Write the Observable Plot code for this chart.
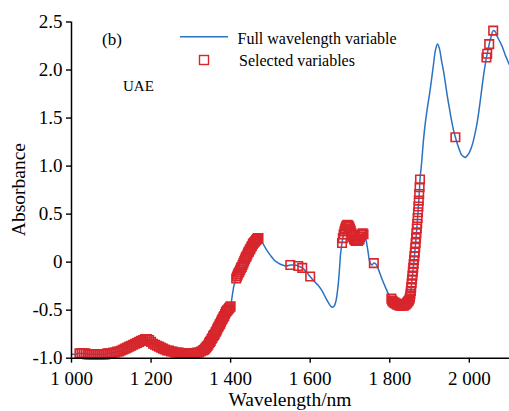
<!DOCTYPE html>
<html>
<head>
<meta charset="utf-8">
<script src="https://cdn.jsdelivr.net/npm/d3@7"></script>
<script src="https://cdn.jsdelivr.net/npm/@observablehq/plot@0.6"></script>
<style>
  html, body { margin: 0; padding: 0; background: #fff; }
  #chart { width: 509px; height: 411px; }
</style>
</head>
<body>
<div id="chart"></div>
<script>
// Spectrum: wavelength (nm) and absorbance
const wavelength = [
  // 1000-1325
  1000,1005,1010,1015,1020,1025,1030,1035,1040,1045,1050,1055,1060,1065,1070,1075,1080,1085,1090,1095,
  1100,1105,1110,1115,1120,1125,1130,1135,1140,1145,1150,1155,1160,1165,1170,1175,1180,1185,1190,1195,
  1200,1205,1210,1215,1220,1225,1230,1235,1240,1245,1250,1255,1260,1265,1270,1275,1280,1285,1290,1295,
  1300,1305,1310,1315,1320,1325,
  // 1330-1470
  1330,1332,1334,1336,1338,1340,1342,1344,1346,1348,1350,1352,1354,1356,1358,1360,1362,1364,1366,1368,
  1370,1372,1374,1376,1378,1380,1382,1384,1386,1388,1390,1392,1394,1396,1398,1400,1402,1404,1406,1408,
  1410,1412,1414,1416,1418,1420,1422,1424,1426,1428,1430,1432,1434,1436,1438,1440,1442,1444,1446,1448,
  1450,1452,1454,1456,1458,1460,1462,1464,1466,1468,1470,
  // 1480-1674
  1480,1490,1500,1510,1520,1530,1540,1550,1560,1570,1580,1590,1600,1610,1620,1630,1640,1650,1655,1660,
  1665,1670,1672,1674,
  // 1676-1740
  1676,1678,1680,1682,1684,1686,1688,1690,1692,1694,1696,1698,1700,1702,1704,1706,1708,1710,1712,1714,
  1716,1718,1720,1722,1724,1726,1728,1730,1732,1734,1736,1738,1740,
  // 1745-1790
  1745,1750,1755,1760,1765,1770,1780,1790,
  // 1800-1850
  1800,1802,1804,1806,1808,1810,1812,1814,1816,1818,1820,1822,1824,1826,1828,1830,1832,1834,1836,1838,
  1840,1842,1844,1846,1848,1850,
  // 1851-1876
  1851,1852,1853,1854,1855,1856,1857,1858,1859,1860,1861,1862,1863,1864,1865,1866,1867,1868,1869,1870,
  1871,1872,1873,1874,1875,1876,
  // 1880-2100
  1880,1885,1890,1895,1900,1905,1910,1915,1920,1925,1930,1935,1940,1945,1950,1955,1960,1965,1970,1975,
  1980,1985,1990,1995,2000,2005,2010,2015,2020,2025,2030,2035,2040,2043,2045,2050,2055,2060,2065,2070,
  2075,2080,2085,2090,2095,2100
];
const absorbance = [
  // 1000-1325
  -0.96,-0.96,-0.96,-0.95,-0.95,-0.95,-0.95,-0.95,-0.96,-0.96,-0.96,-0.96,-0.96,-0.96,-0.96,-0.96,-0.96,-0.96,-0.95,-0.95,
  -0.95,-0.94,-0.94,-0.93,-0.93,-0.92,-0.91,-0.90,-0.89,-0.88,-0.87,-0.86,-0.85,-0.84,-0.83,-0.82,-0.81,-0.80,-0.80,-0.81,
  -0.83,-0.85,-0.86,-0.87,-0.88,-0.89,-0.90,-0.91,-0.92,-0.92,-0.93,-0.93,-0.94,-0.94,-0.94,-0.95,-0.95,-0.95,-0.95,-0.95,
  -0.95,-0.95,-0.95,-0.94,-0.94,-0.93,
  // 1330-1470
  -0.92,-0.915,-0.91,-0.90,-0.89,-0.88,-0.87,-0.86,-0.84,-0.83,-0.82,-0.80,-0.79,-0.77,-0.76,-0.75,-0.73,-0.72,-0.70,-0.68,
  -0.67,-0.65,-0.64,-0.62,-0.60,-0.59,-0.57,-0.56,-0.54,-0.52,-0.51,-0.50,-0.49,-0.48,-0.47,-0.46,-0.41,-0.35,-0.30,-0.25,
  -0.22,-0.19,-0.17,-0.15,-0.13,-0.11,-0.10,-0.08,-0.06,-0.05,-0.03,-0.01,0.01,0.03,0.05,0.06,0.08,0.10,0.11,0.13,
  0.14,0.16,0.17,0.19,0.20,0.21,0.22,0.23,0.24,0.25,0.25,
  // 1480-1674
  0.20,0.13,0.07,0.02,-0.01,-0.03,-0.04,-0.03,-0.03,-0.04,-0.06,-0.10,-0.15,-0.20,-0.24,-0.30,-0.38,-0.45,-0.47,-0.46,
  -0.40,-0.25,-0.16,-0.05,
  // 1676-1740
  0.07,0.14,0.20,0.25,0.29,0.32,0.35,0.37,0.38,0.39,0.38,0.37,0.35,0.33,0.30,0.28,0.26,0.24,0.23,0.22,
  0.22,0.22,0.22,0.23,0.24,0.26,0.28,0.29,0.30,0.29,0.28,0.26,0.24,
  // 1745-1790
  0.12,0.00,-0.03,-0.01,-0.02,-0.06,-0.17,-0.27,
  // 1800-1850
  -0.36,-0.37,-0.38,-0.40,-0.41,-0.42,-0.42,-0.43,-0.43,-0.44,-0.44,-0.44,-0.45,-0.45,-0.45,-0.45,-0.45,-0.45,-0.45,-0.44,
  -0.44,-0.43,-0.42,-0.41,-0.40,-0.38,
  // 1851-1876
  -0.36,-0.33,-0.30,-0.26,-0.22,-0.18,-0.14,-0.10,-0.06,-0.02,0.02,0.06,0.10,0.15,0.20,0.25,0.30,0.35,0.40,0.46,
  0.52,0.58,0.64,0.71,0.78,0.86,
  // 1880-2100
  1.03,1.28,1.47,1.62,1.75,1.90,2.06,2.21,2.27,2.22,2.10,1.99,1.86,1.72,1.60,1.48,1.38,1.30,1.23,1.17,
  1.12,1.10,1.09,1.11,1.14,1.19,1.26,1.35,1.46,1.60,1.76,1.92,2.06,2.13,2.17,2.27,2.35,2.41,2.40,2.35,
  2.31,2.27,2.22,2.16,2.11,2.06
];
// Wavelength bands (nm, inclusive) picked as selected variables
const selectedBands = [
  [1020, 1400], [1414, 1470], [1550, 1550], [1570, 1580], [1600, 1600],
  [1680, 1734], [1760, 1760], [1804, 1876], [1965, 1965],
  [2043, 2043], [2045, 2045], [2050, 2050], [2060, 2060]
];
const xTicks = [1000, 1200, 1400, 1600, 1800, 2000];
const yTicks = [-1.0, -0.5, 0, 0.5, 1.0, 1.5, 2.0, 2.5];
const seriesNames = ["Full wavelength variable", "Selected variables"];
const xLabel = "Wavelength/nm";
const yLabel = "Absorbance";
const panelTag = "(b)";
const methodName = "UAE";

const spectrum = wavelength.map((w, i) => ({w, a: absorbance[i]}));
const selected = spectrum.filter(d => selectedBands.some(([lo, hi]) => d.w >= lo && d.w <= hi));

const BLUE = "#2a72c2";
const RED = "#d8262c";
const thousands = d3.formatLocale({decimal: ".", thousands: " ", grouping: [3], currency: ["", ""], minus: "-"}).format(",");
const xFmt = d => thousands(d);
const yFmt = d => d === 0 ? "0" : d.toFixed(1);

const W = 509, H = 411;
const mL = 71, mR = 0, mT = 21.5, mB = 53.3;
const serif = "'Liberation Serif', 'Times New Roman', serif";

const svg = Plot.plot({
  width: W, height: H,
  marginLeft: mL, marginRight: mR, marginTop: mT, marginBottom: mB,
  style: {fontFamily: serif, fontSize: "19px", color: "#000", background: "#fff", overflow: "visible"},
  x: {domain: [1000, 2101]},
  y: {domain: [-1, 2.5]},
  marks: [
    Plot.axisX({ticks: xTicks, tickFormat: xFmt, tickSize: 5, tickPadding: 8, label: null, strokeWidth: 1.4, fill: "#000", stroke: "#000"}),
    Plot.axisY({ticks: yTicks, tickFormat: yFmt, tickSize: 5, tickPadding: 4, label: null, strokeWidth: 1.4, fill: "#000", stroke: "#000"}),
    Plot.line(spectrum, {x: "w", y: "a", stroke: BLUE, strokeWidth: 1.5, curve: "catmull-rom"}),
    Plot.dot(selected, {x: "w", y: "a", symbol: "square", r: 4.8, stroke: RED, strokeWidth: 1.6, fill: "none"}),
    Plot.ruleX([1000], {stroke: "#000", strokeWidth: 1.5}),
    Plot.ruleY([-1], {stroke: "#000", strokeWidth: 1.5})
  ]
});

const s = d3.select(svg);
function addText(x, y, size, str, anchor) {
  return s.append("text").attr("x", x).attr("y", y).attr("text-anchor", anchor || "start")
    .attr("font-family", serif).attr("font-size", size).attr("fill", "#000").text(str);
}
// axis titles
addText((mL + W - mR) / 2, 406, 19.5, xLabel, "middle");
s.append("text").attr("transform", `translate(25,${(mT + H - mB) / 2}) rotate(-90)`).attr("text-anchor", "middle")
  .attr("font-family", serif).attr("font-size", 19.5).attr("fill", "#000").text(yLabel);
// annotations
addText(102, 45, 17, panelTag);
addText(123, 91, 15, methodName);
// legend
s.append("line").attr("x1", 180).attr("x2", 228).attr("y1", 36.7).attr("y2", 36.7).attr("stroke", BLUE).attr("stroke-width", 1.5);
addText(237.5, 44, 16, seriesNames[0]);
s.append("rect").attr("x", 199.5).attr("y", 55.5).attr("width", 9).attr("height", 9).attr("fill", "none").attr("stroke", RED).attr("stroke-width", 1.4);
addText(239, 66, 16, seriesNames[1]);

document.getElementById("chart").appendChild(svg);
</script>
</body>
</html>
